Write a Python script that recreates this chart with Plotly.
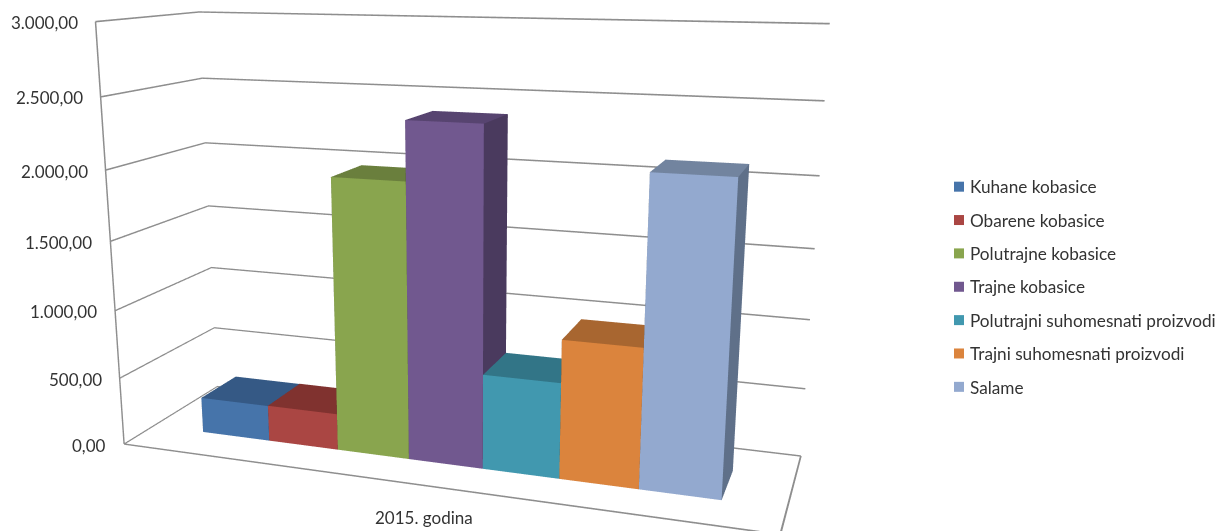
import math
import plotly.graph_objects as go

# Meat product output, 2015
categories = ["Kuhane kobasice", "Obarene kobasice", "Polutrajne kobasice", "Trajne kobasice",
              "Polutrajni suhomesnati proizvodi", "Trajni suhomesnati proizvodi", "Salame"]
values = [266, 268, 1971, 2380, 680, 980, 2124]
group_label = "2015. godina"
value_ticks = [0, 500, 1000, 1500, 2000, 2500, 3000]
value_tick_labels = ["0,00", "500,00", "1.000,00", "1.500,00", "2.000,00", "2.500,00", "3.000,00"]

front_colors = ["#4674AA", "#AA4643", "#89A54E", "#71588F", "#4198AF", "#DB843D", "#93A9CF"]
top_colors = ["#355985", "#80322F", "#6A7F3D", "#574470", "#327587", "#A86630", "#72849F"]
side_colors = ["#2C4A6E", "#6B2A28", "#586A33", "#4A3A5E", "#2A6170", "#8C5528", "#5F7089"]
frame_color = "#8E8E8E"
text_color = "#333333"

# Long-lens view: the canvas is taller than the window, so slide it up to fit
FIG_W, FIG_H = 1221, 1097
PAGE_SHIFT = 268
SCENE_W = 934

# Chart box in data units, and the scene's slightly larger clip box around it
BOX_X = [-0.763, 7.763]
BOX_Y = [0, 1]
BOX_Z = [0, 3000]
PAD_X, PAD_Y, PAD_Z = 0.05, 0.02, 20
BOX_ASPECT = (1.336, 0.3896, 0.8629)
DEPTH_LO, DEPTH_HI = 0.297, 0.683


def padded_aspect(box, pad, aspect):
    span = box[1] - box[0]
    return aspect * (span + 2 * pad) / span


# Half widths of the frame ribbons in axis units
RIBBON_X = 0.011
RIBBON_Z = 5.5

# Camera from azimuth and tilt
AZ, TILT = 0.3314, 0.2493
EYE = (0.8423, -2.4067, 0.5769)
LOOK = 2.6
forward = (-math.sin(AZ) * math.cos(TILT), math.cos(AZ) * math.cos(TILT), -math.sin(TILT))
center = tuple(e + LOOK * d for e, d in zip(EYE, forward))

# Triangles of a box: front (y low), back, left, right, top, bottom
TRI_I = [0, 0, 2, 2, 0, 0, 1, 1, 4, 4, 0, 0]
TRI_J = [1, 5, 3, 7, 3, 7, 2, 6, 5, 6, 1, 2]
TRI_K = [5, 4, 7, 6, 7, 4, 6, 5, 6, 7, 2, 3]
FACE_KINDS = ["front", "front", "back", "back", "left", "left", "side", "side", "top", "top", "bottom", "bottom"]
FLAT = dict(ambient=1, diffuse=0, specular=0, roughness=1, fresnel=0)

fig = go.Figure()

# Bars
for i, (name, val) in enumerate(zip(categories, values)):
    x0, x1 = i, i + 1
    palette = {"front": front_colors[i], "back": side_colors[i], "left": side_colors[i],
               "side": side_colors[i], "top": top_colors[i], "bottom": side_colors[i]}
    fig.add_trace(go.Mesh3d(
        x=[x0, x1, x1, x0, x0, x1, x1, x0],
        y=[DEPTH_LO, DEPTH_LO, DEPTH_HI, DEPTH_HI, DEPTH_LO, DEPTH_LO, DEPTH_HI, DEPTH_HI],
        z=[0, 0, 0, 0, val, val, val, val],
        i=TRI_I, j=TRI_J, k=TRI_K,
        facecolor=[palette[k] for k in FACE_KINDS],
        flatshading=True, lighting=FLAT, showlegend=False, hoverinfo="skip",
    ))

# Frame as thin ribbons: grid levels on both walls, floor edges, front-left upright
xa, xb = BOX_X
ya, yb = BOX_Y
rx, ry, rz, ri, rj, rk = [], [], [], [], [], []


def ribbon(corners):
    n = len(rx)
    for cx, cy, cz in corners:
        rx.append(cx)
        ry.append(cy)
        rz.append(cz)
    ri.extend([n, n])
    rj.extend([n + 1, n + 2])
    rk.extend([n + 2, n + 3])


def level_on_left_wall(level):
    ribbon([(xa, ya, level - RIBBON_Z), (xa, yb, level - RIBBON_Z), (xa, yb, level + RIBBON_Z), (xa, ya, level + RIBBON_Z)])


def level_on_back_wall(level):
    ribbon([(xa, yb, level - RIBBON_Z), (xb, yb, level - RIBBON_Z), (xb, yb, level + RIBBON_Z), (xa, yb, level + RIBBON_Z)])


for t in value_ticks:
    level_on_left_wall(t)
    level_on_back_wall(t)
ribbon([(xa, ya, -RIBBON_Z), (xb, ya, -RIBBON_Z), (xb, ya, RIBBON_Z), (xa, ya, RIBBON_Z)])
ribbon([(xb - RIBBON_X, ya, 0), (xb + RIBBON_X, ya, 0), (xb + RIBBON_X, yb, 0), (xb - RIBBON_X, yb, 0)])
ribbon([(xa - RIBBON_X, ya, BOX_Z[0]), (xa + RIBBON_X, ya, BOX_Z[0]),
        (xa + RIBBON_X, ya, BOX_Z[1]), (xa - RIBBON_X, ya, BOX_Z[1])])
fig.add_trace(go.Mesh3d(x=rx, y=ry, z=rz, i=ri, j=rj, k=rk, color=frame_color, flatshading=True,
                        lighting=FLAT, showlegend=False, hoverinfo="skip"))

# Legend keys
for name, color in zip(categories, front_colors):
    fig.add_trace(go.Scatter3d(x=[None], y=[None], z=[None], mode="markers", name=name,
                               legendgroup=name, hoverinfo="skip",
                               marker=dict(symbol="square", size=10, color=color)))

axis_common = dict(showbackground=False, showspikes=False, zeroline=False, title="",
                   showline=False, showgrid=False, showticklabels=False, ticks="")

# Axis labels sit beside the frame as text anchored to their data positions
label_font = dict(family="Lato", size=17, color=text_color)
scene_labels = [dict(x=xa, y=ya, z=t, text=s, showarrow=False, xanchor="right", yanchor="middle",
                     xshift=-16, yshift=-1, font=label_font)
                for t, s in zip(value_ticks, value_tick_labels)]
scene_labels.append(dict(x=3.5, y=ya, z=0, text=group_label, showarrow=False, xanchor="center",
                         yanchor="middle", xshift=-1, yshift=-32, font=label_font))

fig.update_layout(
    width=FIG_W, height=FIG_H, autosize=False,
    margin=dict(l=0, r=0, t=0, b=0),
    paper_bgcolor="white",
    scene=dict(
        domain=dict(x=[0, SCENE_W / FIG_W], y=[0, 1]),
        aspectmode="manual",
        aspectratio=dict(x=padded_aspect(BOX_X, PAD_X, BOX_ASPECT[0]),
                         y=padded_aspect(BOX_Y, PAD_Y, BOX_ASPECT[1]),
                         z=padded_aspect(BOX_Z, PAD_Z, BOX_ASPECT[2])),
        camera=dict(eye=dict(x=EYE[0], y=EYE[1], z=EYE[2]),
                    center=dict(x=center[0], y=center[1], z=center[2]),
                    up=dict(x=0, y=0, z=1), projection=dict(type="perspective")),
        xaxis=dict(range=[xa - PAD_X, xb + PAD_X], **axis_common),
        yaxis=dict(range=[ya - PAD_Y, yb + PAD_Y], **axis_common),
        zaxis=dict(range=[BOX_Z[0] - PAD_Z, BOX_Z[1] + PAD_Z], **axis_common),
        annotations=scene_labels,
    ),
    legend=dict(x=944 / FIG_W, xanchor="left", y=1 - (PAGE_SHIFT + 169) / FIG_H, yanchor="top",
                font=dict(family="Lato", size=17.2, color=text_color), tracegroupgap=8, indentation=-10,
                bgcolor="rgba(0,0,0,0)"),
)

shift_js = (
    "var gd=document.getElementById('{plot_id}');"
    f"gd.style.marginTop='-{PAGE_SHIFT}px';"
    "document.documentElement.style.overflow='hidden';document.body.style.overflow='hidden';"
    "gd.querySelectorAll('.legend .legendsymbols').forEach(function(g){"
    "g.setAttribute('transform','translate(9,0)');});"
)
fig.write_html("out.html", config=dict(displayModeBar=False), post_script=shift_js)
